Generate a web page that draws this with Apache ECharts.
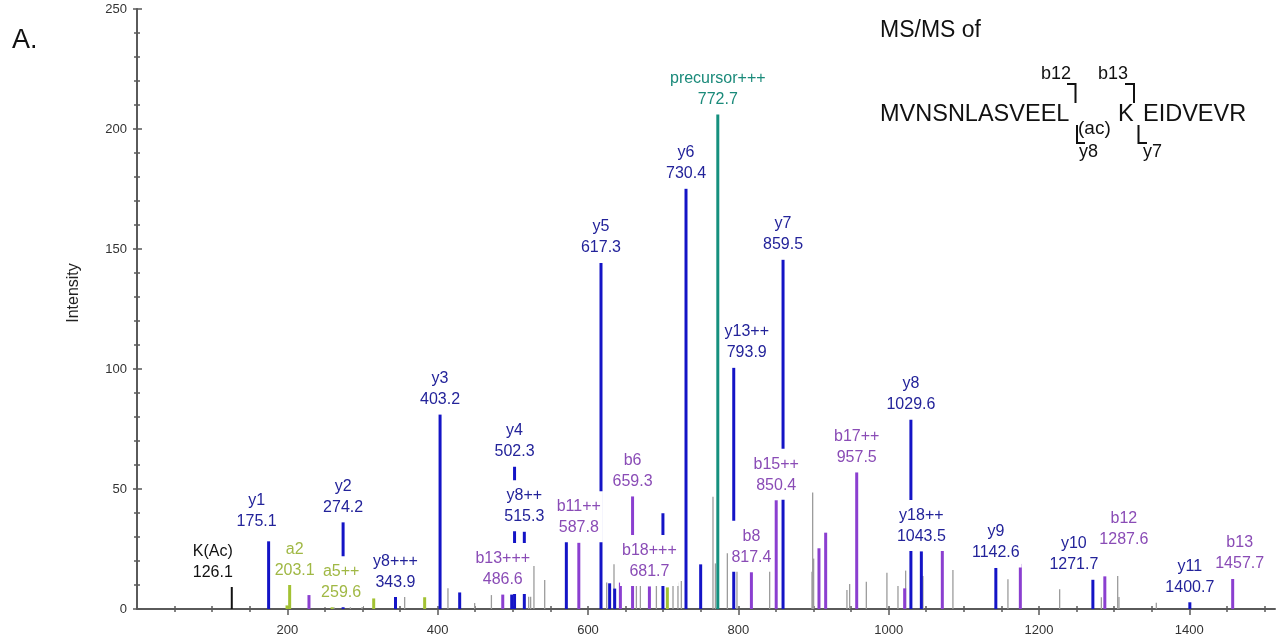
<!DOCTYPE html>
<html>
<head>
<meta charset="utf-8">
<script src="https://cdn.jsdelivr.net/npm/echarts@6/dist/echarts.min.js"></script>
<style>
  html, body { margin: 0; padding: 0; background: #fff; }
  #chart { width: 1278px; height: 639px; }
</style>
</head>
<body>
<div id="chart"></div>
<script>
// ---- Annotated fragment ions (name, m/z, intensity) ----
const yIonNames = ['y1', 'y2', 'y8+++', 'y3', 'y4', 'y8++', 'y5', 'y6', 'y13++', 'y7', 'y8', 'y18++', 'y9', 'y10', 'y11'];
const yIonMz = [175.1, 274.2, 343.9, 403.2, 502.3, 515.3, 617.3, 730.4, 793.9, 859.5, 1029.6, 1043.5, 1142.6, 1271.7, 1400.7];
const yIonIntensity = [28.2, 36.1, 6.9, 81.0, 59.3, 32.2, 144.2, 175.1, 100.5, 145.5, 78.9, 24.0, 17.1, 12.2, 2.8];

const bIonNames = ['b13+++', 'b11++', 'b6', 'b18+++', 'b8', 'b15++', 'b17++', 'b12', 'b13'];
const bIonMz = [486.6, 587.8, 659.3, 681.7, 817.4, 850.4, 957.5, 1287.6, 1457.7];
const bIonIntensity = [6.0, 27.6, 46.9, 9.4, 15.3, 45.3, 56.9, 13.6, 12.5];

const aIonNames = ['a2', 'a5++'];
const aIonMz = [203.1, 259.6];
const aIonIntensity = [11.0, 3.9];

const precursorNames = ['precursor+++'];
const precursorMz = [772.7];
const precursorIntensity = [206.0];

const immoniumNames = ['K(Ac)'];
const immoniumMz = [126.1];
const immoniumIntensity = [11.5];

// ---- Matched but unlabelled peaks ----
const yOtherMz = [429.3, 498.5, 571.2, 628.8, 635.5, 699.7, 749.9];
const yOtherIntensity = [6.9, 6.0, 29.2, 10.7, 8.5, 39.9, 18.6];
const bOtherMz = [228.8, 643.1, 907.3, 916.2, 1021.3, 1071.4, 1175.2];
const bOtherIntensity = [5.8, 11.0, 25.3, 31.8, 8.6, 25.6, 18.8];
const aOtherMz = [199.6, 314.9, 382.7, 705.6];
const aOtherIntensity = [1.5, 4.4, 4.9, 9.0];

// ---- Unassigned peaks ----
const noiseMz = [262.1, 283.9, 299.3, 356.1, 413.7, 449.2, 471.5, 521.1, 523.7, 528.1, 542.4, 624.9, 634.6, 664.4, 669.7, 691.0, 713.1, 719.7, 724.2, 766.3, 769.5, 785.4, 798.2, 841.7, 898.0, 898.9, 900.2, 944.5, 948.1, 970.3, 997.7, 1012.4, 1022.6, 1045.6, 1085.5, 1158.7, 1227.5, 1283.0, 1304.7, 1306.4, 1356.1];
const noiseIntensity = [5.8, 4.9, 12.1, 7.2, 8.6, 2.5, 5.8, 5.1, 5.1, 17.9, 12.1, 11.0, 18.6, 11.0, 11.0, 11.0, 11.0, 11.0, 11.7, 46.8, 19.0, 23.2, 17.0, 17.0, 15.5, 48.5, 21.0, 7.9, 10.4, 11.4, 15.1, 9.6, 16.0, 13.8, 16.3, 12.4, 8.2, 4.9, 13.8, 5.0, 2.6];

// ---- Axis ticks ----
const xLabelValues = [200, 400, 600, 800, 1000, 1200, 1400];
const xMinorTickValues = [50, 100, 150, 200, 250, 300, 350, 400, 450, 500, 550, 600, 650, 700, 750, 800, 850, 900, 950, 1000, 1050, 1100, 1150, 1200, 1250, 1300, 1350, 1400, 1450, 1500];
const yLabelValues = [0, 50, 100, 150, 200, 250];

// Label nudges [dx, dy] where neighbouring labels would collide
const labelNudge = {
  'K(Ac)': [-19, 6], 'y1': [-12, -5], 'a2': [5, 3], 'a5++': [9, 8], 'y8+++': [0, 5],
  'y13++': [13, 0], 'y10': [-19, 0], 'b12': [19, -22], 'b13': [7, 0]
};

const COLORS = {
  y: '#1414c6', yText: '#23239a',
  b: '#8b3fd0', bText: '#8a4cb6',
  a: '#a3c233', aText: '#a0b844',
  p: '#15907e', pText: '#1a8a7a',
  k: '#111111', kText: '#111111',
  noise: '#9c9c9c'
};

const SANS = "'Liberation Sans', Arial, sans-serif";

function pairs(mz, intensity) {
  return mz.map((m, i) => [m, intensity[i]]);
}

// One vertical stick per peak, from the baseline up to its intensity
function stickSeries(name, mz, intensity, color, width) {
  return {
    name: name,
    type: 'custom',
    xAxisIndex: 0,
    yAxisIndex: 0,
    z: 2,
    silent: true,
    data: pairs(mz, intensity),
    renderItem: function (params, api) {
      const base = api.coord([api.value(0), 0]);
      const tip = api.coord([api.value(0), api.value(1)]);
      return {
        type: 'rect',
        shape: { x: base[0] - width / 2, y: tip[1], width: width, height: base[1] - tip[1] },
        style: { fill: color }
      };
    }
  };
}

function labelItems(names, mz, intensity, color) {
  return names.map((n, i) => ({
    value: [mz[i], intensity[i]],
    labelText: n + '\n' + mz[i].toFixed(1),
    label: { color: color, offset: labelNudge[n] || [0, 0] }
  }));
}

const labelData = [].concat(
  labelItems(immoniumNames, immoniumMz, immoniumIntensity, COLORS.kText),
  labelItems(yIonNames, yIonMz, yIonIntensity, COLORS.yText),
  labelItems(bIonNames, bIonMz, bIonIntensity, COLORS.bText),
  labelItems(aIonNames, aIonMz, aIonIntensity, COLORS.aText),
  labelItems(precursorNames, precursorMz, precursorIntensity, COLORS.pText)
);

const axisGray = '#5a5a5a';
const GRID = { left: 137, right: 3, top: 9, bottom: 30 };

const baseX = { type: 'value', min: 0, max: 1514, gridIndex: 0, position: 'bottom', offset: 0, splitLine: { show: false } };
const baseY = { type: 'value', min: 0, max: 250, interval: 50, gridIndex: 0, position: 'left', offset: 0, splitLine: { show: false } };
const tickFont = { color: '#333', fontSize: 13, fontFamily: SANS };

const option = {
  animation: false,
  backgroundColor: '#ffffff',
  grid: GRID,
  xAxis: [
    Object.assign({}, baseX, {
      axisLine: { show: true, lineStyle: { color: axisGray, width: 2 } },
      axisTick: { show: true, inside: false, length: 3, customValues: xMinorTickValues, lineStyle: { color: axisGray, width: 1.5 } },
      axisLabel: Object.assign({ show: true, customValues: xLabelValues, margin: 15, formatter: v => String(v) }, tickFont)
    }),
    Object.assign({}, baseX, {
      axisLine: { show: false },
      axisTick: { show: true, inside: true, length: 3, customValues: xMinorTickValues, lineStyle: { color: axisGray, width: 1.5 } },
      axisLabel: { show: false }
    }),
    Object.assign({}, baseX, {
      axisLine: { show: false },
      axisTick: { show: true, inside: false, length: 6, customValues: xLabelValues, lineStyle: { color: axisGray, width: 1.5 } },
      axisLabel: { show: false }
    })
  ],
  yAxis: [
    Object.assign({}, baseY, {
      axisLine: { show: true, lineStyle: { color: axisGray, width: 2 } },
      axisTick: { show: true, inside: false, length: 4, lineStyle: { color: axisGray, width: 1.5 } },
      minorTick: { show: true, splitNumber: 5, length: 3, lineStyle: { color: axisGray, width: 1.5 } },
      axisLabel: Object.assign({ show: true, customValues: yLabelValues, margin: 10, formatter: v => String(v) }, tickFont)
    }),
    Object.assign({}, baseY, {
      axisLine: { show: false },
      axisTick: { show: true, inside: true, length: 5, lineStyle: { color: axisGray, width: 1.5 } },
      minorTick: { show: true, splitNumber: 5, length: 3, lineStyle: { color: axisGray, width: 1.5 } },
      axisLabel: { show: false }
    })
  ],
  series: [
    stickSeries('unassigned', noiseMz, noiseIntensity, COLORS.noise, 1.3),
    stickSeries('a other', aOtherMz, aOtherIntensity, COLORS.a, 3),
    stickSeries('b other', bOtherMz, bOtherIntensity, COLORS.b, 3),
    stickSeries('y other', yOtherMz, yOtherIntensity, COLORS.y, 3),
    stickSeries('a ions', aIonMz, aIonIntensity, COLORS.a, 3),
    stickSeries('b ions', bIonMz, bIonIntensity, COLORS.b, 3),
    stickSeries('y ions', yIonMz, yIonIntensity, COLORS.y, 3),
    stickSeries('precursor', precursorMz, precursorIntensity, COLORS.p, 3),
    stickSeries('immonium', immoniumMz, immoniumIntensity, COLORS.k, 2),
    {
      name: 'peak labels',
      type: 'scatter',
      z: 10,
      silent: true,
      symbol: 'circle',
      symbolSize: 1,
      itemStyle: { color: 'rgba(0,0,0,0)', opacity: 1 },
      data: labelData,
      label: {
        show: true,
        position: 'top',
        distance: 0,
        opacity: 1,
        formatter: p => p.data.labelText,
        fontFamily: SANS,
        fontSize: 16,
        lineHeight: 21,
        align: 'center',
        backgroundColor: '#ffffff',
        padding: [5, 2, 4, 2]
      },
      emphasis: { disabled: true }
    }
  ],
  graphic: [
    { type: 'text', left: 12, top: 27, style: { text: 'A.', font: '27px ' + SANS, fill: '#111' } },
    { type: 'text', x: 74, y: 293, rotation: Math.PI / 2, style: { text: 'Intensity', font: '16px ' + SANS, fill: '#222', textAlign: 'center', textVerticalAlign: 'middle' } },
    { type: 'text', x: 880, y: 31, style: { text: 'MS/MS of', font: '23px ' + SANS, fill: '#111', textVerticalAlign: 'middle' } },
    { type: 'text', x: 880, y: 115, style: { text: 'MVNSNLASVEEL', font: '23.5px ' + SANS, fill: '#111', textVerticalAlign: 'middle' } },
    { type: 'text', x: 1078, y: 129, style: { text: '(ac)', font: '19px ' + SANS, fill: '#111', textVerticalAlign: 'middle' } },
    { type: 'text', x: 1118, y: 115, style: { text: 'K', font: '23.5px ' + SANS, fill: '#111', textVerticalAlign: 'middle' } },
    { type: 'text', x: 1143, y: 115, style: { text: 'EIDVEVR', font: '23.5px ' + SANS, fill: '#111', textVerticalAlign: 'middle' } },
    { type: 'text', x: 1041, y: 74, style: { text: 'b12', font: '18px ' + SANS, fill: '#111', textVerticalAlign: 'middle' } },
    { type: 'text', x: 1098, y: 74, style: { text: 'b13', font: '18px ' + SANS, fill: '#111', textVerticalAlign: 'middle' } },
    { type: 'text', x: 1079, y: 152, style: { text: 'y8', font: '18px ' + SANS, fill: '#111', textVerticalAlign: 'middle' } },
    { type: 'text', x: 1143, y: 152, style: { text: 'y7', font: '18px ' + SANS, fill: '#111', textVerticalAlign: 'middle' } },
    { type: 'polyline', shape: { points: [[1067, 84], [1075.5, 84], [1075.5, 103]] }, style: { stroke: '#111', lineWidth: 2, fill: null } },
    { type: 'polyline', shape: { points: [[1125, 84], [1134, 84], [1134, 103]] }, style: { stroke: '#111', lineWidth: 2, fill: null } },
    { type: 'polyline', shape: { points: [[1077, 125], [1077, 143], [1085, 143]] }, style: { stroke: '#111', lineWidth: 2, fill: null } },
    { type: 'polyline', shape: { points: [[1138.5, 125], [1138.5, 143], [1147, 143]] }, style: { stroke: '#111', lineWidth: 2, fill: null } }
  ]
};

const chart = echarts.init(document.getElementById('chart'), null, { renderer: 'canvas' });
chart.setOption(option);
</script>
</body>
</html>
